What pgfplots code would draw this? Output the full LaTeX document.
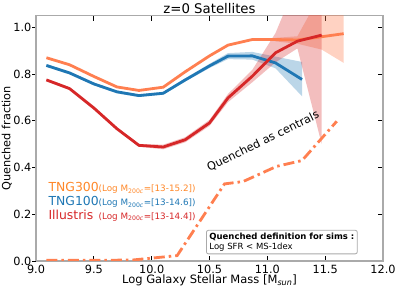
\documentclass[border=0pt]{standalone}
\usepackage{pgfplots}
\pgfplotsset{compat=1.18}
\usepgfplotslibrary{fillbetween}
\usepackage{fontspec}
\setmainfont{DejaVu Sans}
\definecolor{corl}{RGB}{255,127,80}
\definecolor{orgtxt}{RGB}{255,135,40}
\definecolor{tblue}{RGB}{31,119,180}
\definecolor{tred}{RGB}{214,39,40}
\definecolor{framegray}{RGB}{170,170,170}
\begin{document}
\begin{tikzpicture}
\pgfplotsset{base/.style={at={(0,0)}, anchor=south west, scale only axis, width=347pt, height=245.3pt,
  xmin=9, xmax=12, ymin=0, ymax=1.05}}
\begin{axis}[base, clip mode=individual,
  axis line style={draw=framegray, line width=1.2pt},
  xtick={9,9.5,10,10.5,11,11.5,12}, xticklabels={9.0,9.5,10.0,10.5,11.0,11.5,12.0},
  xtick pos=both, tick align=inside,
  ytick={0,0.2,0.4,0.6,0.8,1.0}, ytick pos=right, yticklabels={},
  major tick length=5pt, tick style={black, line width=0.8pt},
  xticklabel style={font=\fontsize{11.3}{13}\selectfont, yshift=-0.5pt},
]
% TNG300
\addplot[name path=ou, draw=none, forget plot] coordinates {(11.07,0.955) (11.26,0.962) (11.47,1.15) (11.66,1.20)};
\addplot[name path=ol, draw=none, forget plot] coordinates {(11.07,0.940) (11.26,0.930) (11.47,0.905) (11.66,0.848)};
\addplot[fill=corl, fill opacity=0.35, draw=none] fill between[of=ou and ol];
\addplot[corl, line width=2.8pt] coordinates {
(9.09,0.870) (9.29,0.840) (9.50,0.790) (9.70,0.745) (9.89,0.730) (10.10,0.744) (10.29,0.810)
(10.50,0.878) (10.66,0.924) (10.87,0.948) (11.07,0.948) (11.26,0.946) (11.47,0.960) (11.66,0.973)};
% TNG100
\addplot[name path=bu, draw=none, forget plot] coordinates {(9.09,0.843) (9.29,0.811) (9.50,0.764) (9.70,0.730) (9.89,0.714) (10.10,0.724) (10.29,0.782) (10.50,0.844) (10.66,0.890) (10.87,0.895) (11.07,0.875) (11.30,0.852)};
\addplot[name path=bl, draw=none, forget plot] coordinates {(9.09,0.831) (9.29,0.799) (9.50,0.752) (9.70,0.718) (9.89,0.702) (10.10,0.712) (10.29,0.768) (10.50,0.826) (10.66,0.864) (10.87,0.862) (11.07,0.825) (11.30,0.705)};
\addplot[fill=tblue, fill opacity=0.3, draw=none] fill between[of=bu and bl];
\addplot[tblue, line width=2.8pt] coordinates {
(9.09,0.837) (9.29,0.805) (9.50,0.758) (9.70,0.724) (9.89,0.708) (10.10,0.718) (10.29,0.775)
(10.50,0.835) (10.66,0.877) (10.87,0.878) (11.07,0.848) (11.30,0.777)};
% Illustris
\addplot[name path=ru, draw=none, forget plot] coordinates {(9.09,0.781) (9.29,0.744) (9.50,0.662) (9.70,0.572) (9.89,0.501) (10.10,0.498) (10.29,0.530) (10.50,0.604) (10.66,0.715) (10.87,0.818) (11.07,0.975) (11.26,1.20) (11.47,1.40)};
\addplot[name path=rl, draw=none, forget plot] coordinates {(9.09,0.769) (9.29,0.732) (9.50,0.648) (9.70,0.560) (9.89,0.489) (10.10,0.478) (10.29,0.508) (10.50,0.578) (10.66,0.680) (10.87,0.765) (11.07,0.850) (11.26,0.910) (11.47,0.500)};
\addplot[fill=tred, fill opacity=0.3, draw=none] fill between[of=ru and rl];
\addplot[tred, line width=2.8pt] coordinates {
(9.09,0.775) (9.29,0.738) (9.50,0.655) (9.70,0.566) (9.89,0.495) (10.10,0.488) (10.29,0.519)
(10.50,0.591) (10.66,0.698) (10.87,0.791) (11.07,0.891) (11.26,0.941) (11.47,0.967)};
% quenched as centrals
\addplot[corl, line width=2.8pt, dash pattern=on 11pt off 4pt on 2.5pt off 4pt] coordinates {
(9.09,0.003) (9.50,0.003) (9.83,0.004) (10.22,0.023) (10.63,0.330) (10.79,0.340)
(11.08,0.405) (11.30,0.430) (11.60,0.598)};
% texts
\node[rotate=26, font=\fontsize{11.3}{13}\selectfont] at (axis cs:10.964,0.513) {Quenched as centrals};
\node[anchor=base west, inner sep=0, text=orgtxt, font=\fontsize{12.4}{14}\selectfont] at (axis cs:9.107,0.297) {TNG300};
\node[anchor=base west, inner sep=0, text=orgtxt, font=\fontsize{8.8}{10}\selectfont] at (axis cs:9.54,0.297) {(Log M\textsubscript{200\itshape c}=[13-15.2])};
\node[anchor=base west, inner sep=0, text=tblue, font=\fontsize{12.4}{14}\selectfont] at (axis cs:9.107,0.237) {TNG100};
\node[anchor=base west, inner sep=0, text=tblue, font=\fontsize{8.8}{10}\selectfont] at (axis cs:9.54,0.237) {(Log M\textsubscript{200\itshape c}=[13-14.6])};
\node[anchor=base west, inner sep=0, text=tred, font=\fontsize{12.4}{14}\selectfont] at (axis cs:9.107,0.179) {Illustris};
\node[anchor=base west, inner sep=0, text=tred, font=\fontsize{8.8}{10}\selectfont] at (axis cs:9.54,0.179) {(Log M\textsubscript{200\itshape c}=[13-14.4])};
\node[anchor=north west, draw=framegray, line width=0.8pt, rounded corners=2pt, fill=white, align=left,
  inner xsep=3pt, inner ysep=2.5pt, font=\fontsize{8.5}{10.3}\selectfont] at (axis cs:10.47,0.133)
  {\textbf{Quenched definition for sims :}\\Log SFR < MS-1dex};
\node[anchor=base, inner sep=0, font=\fontsize{13.3}{15}\selectfont] at (rel axis cs:0.5,1) [yshift=2.5pt] {z=0 Satellites};
\node[anchor=base, inner sep=0, font=\fontsize{11.5}{13}\selectfont] at (rel axis cs:0.5,0) [yshift=-23pt] {Log Galaxy Stellar Mass [M\textsubscript{\itshape sun}]};
\node[anchor=north, rotate=90, inner sep=0, font=\fontsize{11.3}{13}\selectfont] at (axis cs:8.7034,0.525) {Quenched fraction};
\end{axis}
\begin{axis}[base, axis x line=none, axis y line*=left,
  axis line style={draw=framegray, line width=1.2pt},
  xtick=\empty,
  ytick={0,0.2,0.4,0.6,0.8,1.0}, yticklabels={0.0,0.2,0.4,0.6,0.8,1.0},
  tick align=outside, major tick length=3.5pt, tick style={black, line width=0.8pt},
  yticklabel style={font=\fontsize{11.3}{13}\selectfont, inner xsep=1pt},
]
\end{axis}
\pgfresetboundingbox
\useasboundingbox (-36pt,-30pt) rectangle (363pt,261pt);
\end{tikzpicture}
\end{document}
